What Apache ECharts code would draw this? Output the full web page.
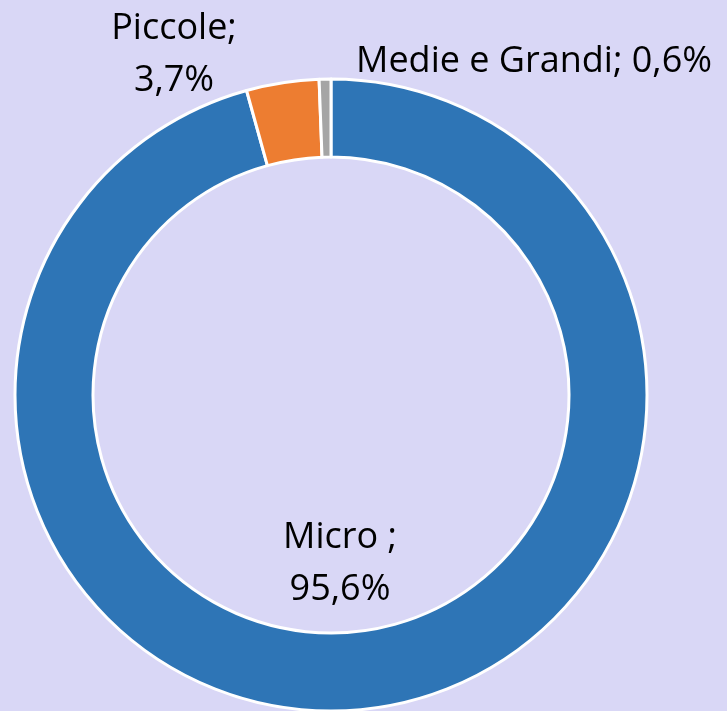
<!DOCTYPE html>
<html>
<head>
<meta charset="utf-8">
<script src="https://cdn.jsdelivr.net/npm/echarts@6/dist/echarts.min.js"></script>
<style>
  html, body { margin: 0; padding: 0; background: #D9D7F6; }
  #chart { width: 727px; height: 711px; }
</style>
</head>
<body>
<div id="chart"></div>
<script>
// dati della ciambella
const categories = ['Micro ', 'Piccole', 'Medie e Grandi']
const values = [95.6, 3.7, 0.6]
const colors = ['#2E75B6', '#ED7D31', '#A5A5A5']
// posizione delle etichette (centro del testo)
const labelPos = [[340, 564], [174, 55], [534, 62]]

const fmt = v => v.toFixed(1).replace('.', ',') + '%'

const chart = echarts.init(document.getElementById('chart'))
chart.setOption({
  backgroundColor: '#D9D7F6',
  animation: false,
  series: [{
    type: 'pie',
    center: [331, 395],
    radius: [238, 316],
    startAngle: 90,
    clockwise: true,
    avoidLabelOverlap: false,
    itemStyle: { borderColor: '#fff', borderWidth: 3 },
    label: {
      show: true,
      position: 'outside',
      color: '#000',
      fontFamily: 'Open Sans',
      fontSize: 36,
      lineHeight: 52,
      align: 'center',
      formatter: p => p.dataIndex === 2
        ? p.name + '; ' + fmt(p.value)
        : p.name + ';\n' + fmt(p.value)
    },
    labelLine: { show: false },
    labelLayout: p => ({
      x: labelPos[p.dataIndex][0],
      y: labelPos[p.dataIndex][1],
      align: 'center',
      verticalAlign: 'middle'
    }),
    data: categories.map((c, i) => ({ name: c, value: values[i], itemStyle: { color: colors[i] } }))
  }]
})
</script>
</body>
</html>
